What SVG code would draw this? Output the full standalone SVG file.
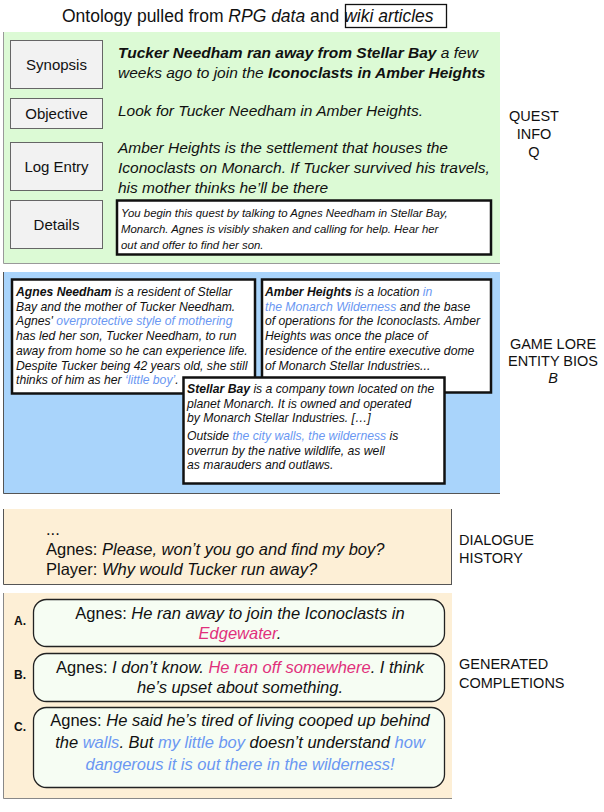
<svg xmlns="http://www.w3.org/2000/svg" width="604" height="812" viewBox="0 0 604 812">
<style>
text{font-family:"Liberation Sans",Arial,sans-serif;fill:#111}
.it{font-style:italic}
.b{font-weight:bold}
.btn{fill:#f2f2f2;stroke:#666;stroke-width:1}
.btnt{font-size:15px;text-anchor:middle}
.q{font-size:15.5px;font-style:italic}
.bio{fill:#fff;stroke:#111;stroke-width:2.5}
.bt{font-size:12.2px;font-style:italic}
.blue{fill:#6a97f2}
.pink{fill:#e1307c}
.lab{font-size:14.5px;text-anchor:middle}
.labl{font-size:14.5px}
.comp{fill:#f6fdf3;stroke:#222;stroke-width:1.3}
.ct{font-size:16.5px;text-anchor:middle}
.letter{font-size:12px;font-weight:bold}
.dt{font-size:16.5px}
</style>
<g id="title">
<text x="62" y="22" font-size="17.5">Ontology pulled from <tspan class="it">RPG data</tspan> and <tspan class="it">wiki articles</tspan></text>
<rect x="345.5" y="4.5" width="101" height="23" fill="none" stroke="#111" stroke-width="1.3"/>
</g>
<g id="quest-panel">
<rect x="3" y="32" width="497" height="231" fill="#dcfad5"/>
<path d="M3.5 32V263.5H500" fill="none" stroke="#999" stroke-width="1"/>
</g>
<g id="synopsis">
<rect class="btn" x="10.5" y="40.5" width="92" height="48"/>
<text class="btnt" x="56.5" y="70">Synopsis</text>
<text class="q" x="118" y="58"><tspan class="b">Tucker Needham ran away from Stellar Bay</tspan> a few</text>
<text class="q" x="118" y="78">weeks ago to join the <tspan class="b">Iconoclasts in Amber Heights</tspan></text>
</g>
<g id="objective">
<rect class="btn" x="10.5" y="98.5" width="92" height="30"/>
<text class="btnt" x="56.5" y="119">Objective</text>
<text class="q" x="118" y="116">Look for Tucker Needham in Amber Heights.</text>
</g>
<g id="log-entry">
<rect class="btn" x="10.5" y="142.5" width="92" height="48"/>
<text class="btnt" x="56.5" y="172">Log Entry</text>
<text class="q" x="118" y="153">Amber Heights is the settlement that houses the</text>
<text class="q" x="118" y="173">Iconoclasts on Monarch. If Tucker survived his travels,</text>
<text class="q" x="118" y="193">his mother thinks he’ll be there</text>
</g>
<g id="details">
<rect class="btn" x="10.5" y="200.5" width="92" height="48"/>
<text class="btnt" x="56.5" y="230">Details</text>
<rect x="117" y="200.5" width="374" height="54" fill="#fff" stroke="#111" stroke-width="2.5"/>
<text x="121" y="217" font-size="11.4" class="it">You begin this quest by talking to Agnes Needham in Stellar Bay,</text>
<text x="121" y="233" font-size="11.4" class="it">Monarch.  Agnes is visibly shaken and calling for help.  Hear her</text>
<text x="121" y="249" font-size="11.4" class="it">out and offer to find her son.</text>
</g>
<g id="quest-label">
<text class="lab" x="534" y="121">QUEST</text>
<text class="lab" x="534" y="139">INFO</text>
<text class="lab" x="534" y="157">Q</text>
</g>
<g id="lore-panel">
<rect x="3" y="272" width="497" height="222" fill="#a9d4fb"/>
<path d="M3.5 272V493.5H500" fill="none" stroke="#555" stroke-width="1"/>
</g>
<g id="agnes-bio">
<rect class="bio" x="12" y="279.5" width="243" height="114"/>
<text class="bt" x="16" y="296"><tspan class="b">Agnes Needham</tspan> is a resident of Stellar</text>
<text class="bt" x="16" y="310.7">Bay and the mother of Tucker Needham.</text>
<text class="bt" x="16" y="325.4">Agnes' <tspan class="blue">overprotective style of mothering</tspan></text>
<text class="bt" x="16" y="340.1">has led her son, Tucker Needham, to run</text>
<text class="bt" x="16" y="354.8">away from home so he can experience life.</text>
<text class="bt" x="16" y="369.5">Despite Tucker being 42 years old, she still</text>
<text class="bt" x="16" y="384.2">thinks of him as her <tspan class="blue">‘little boy’</tspan>.</text>
</g>
<g id="amber-bio">
<rect class="bio" x="262" y="279.5" width="229" height="113"/>
<text class="bt" x="265" y="296"><tspan class="b">Amber Heights</tspan> is a location <tspan class="blue">in</tspan></text>
<text class="bt blue" x="265" y="310.7">the Monarch Wilderness <tspan fill="#111">and the base</tspan></text>
<text class="bt" x="265" y="325.4">of operations for the Iconoclasts. Amber</text>
<text class="bt" x="265" y="340.1">Heights was once the place of</text>
<text class="bt" x="265" y="354.8">residence of the entire executive dome</text>
<text class="bt" x="265" y="369.5">of Monarch Stellar Industries...</text>
</g>
<g id="stellar-bio">
<rect class="bio" x="183.5" y="377.5" width="261" height="106"/>
<text class="bt" x="187" y="393"><tspan class="b">Stellar Bay</tspan> is a company town located on the</text>
<text class="bt" x="187" y="407.5">planet Monarch. It is owned and operated</text>
<text class="bt" x="187" y="422">by Monarch Stellar Industries.  […]</text>
<text class="bt" x="187" y="440">Outside <tspan class="blue">the city walls, the wilderness</tspan> is</text>
<text class="bt" x="187" y="454.5">overrun by the native wildlife, as well</text>
<text class="bt" x="187" y="469">as marauders and outlaws.</text>
</g>
<g id="lore-label">
<text class="lab" x="553" y="349">GAME LORE</text>
<text class="lab" x="553" y="366">ENTITY BIOS</text>
<text class="lab it" x="553" y="383">B</text>
</g>
<g id="dialogue-panel">
<rect x="3" y="509" width="449" height="76" fill="#fdefd6"/>
<path d="M3.5 509V584.5H452M451.5 509V584" fill="none" stroke="#555" stroke-width="1"/>
<text class="dt" x="46" y="535">...</text>
<text class="dt" x="46" y="555">Agnes: <tspan class="it">Please, won’t you go and find my boy?</tspan></text>
<text class="dt" x="46" y="575">Player: <tspan class="it">Why would Tucker run away?</tspan></text>
</g>
<g id="dialogue-label">
<text class="labl" x="459" y="545">DIALOGUE</text>
<text class="labl" x="459" y="563">HISTORY</text>
</g>
<g id="completions-panel">
<rect x="3" y="593" width="449" height="206" fill="#fdefd6"/>
<path d="M3.5 593V798.5H452" fill="none" stroke="#888" stroke-width="1"/>
</g>
<g id="completion-a">
<text class="letter" x="14" y="625">A.</text>
<rect class="comp" x="33.5" y="599.5" width="411" height="47" rx="13"/>
<text class="ct" x="240" y="619">Agnes: <tspan class="it">He ran away to join the Iconoclasts in</tspan></text>
<text class="ct it" x="240" y="639"><tspan class="pink">Edgewater</tspan>.</text>
</g>
<g id="completion-b">
<text class="letter" x="14" y="679">B.</text>
<rect class="comp" x="33.5" y="653.5" width="411" height="48" rx="13"/>
<text class="ct" x="240" y="673">Agnes: <tspan class="it">I don’t know. <tspan class="pink">He ran off somewhere</tspan>. I think</tspan></text>
<text class="ct it" x="240" y="693">he’s upset about something.</text>
</g>
<g id="completion-c">
<text class="letter" x="14" y="731" font-weight="normal">C.</text>
<rect class="comp" x="33.5" y="707.5" width="411" height="80" rx="13"/>
<text class="ct" x="240" y="726">Agnes: <tspan class="it">He said he’s tired of living cooped up behind</tspan></text>
<text class="ct it" x="240" y="748">the <tspan class="blue">walls</tspan>. But <tspan class="blue">my little boy</tspan> doesn’t understand <tspan class="blue">how</tspan></text>
<text class="ct it blue" x="240" y="770">dangerous it is out there in the wilderness!</text>
</g>
<g id="completions-label">
<text class="labl" x="459" y="669">GENERATED</text>
<text class="labl" x="459" y="688">COMPLETIONS</text>
</g>
</svg>
